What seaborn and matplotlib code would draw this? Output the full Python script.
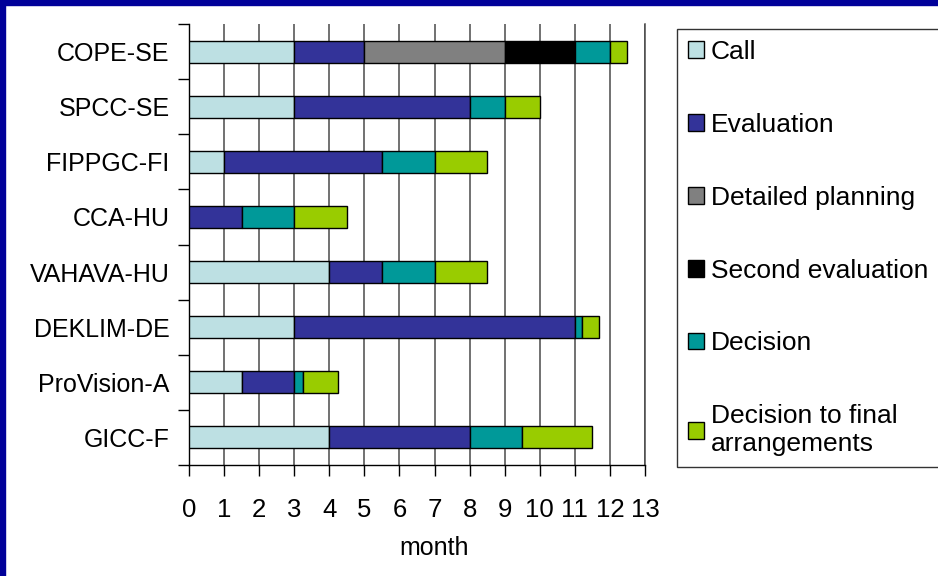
import pandas as pd
import matplotlib
matplotlib.use("Agg")
import matplotlib.pyplot as plt
from matplotlib.patches import Rectangle, Patch
import seaborn as sns

# Dados
projects = ["COPE-SE", "SPCC-SE", "FIPPGC-FI", "CCA-HU",
            "VAHAVA-HU", "DEKLIM-DE", "ProVision-A", "GICC-F"]
phases = ["Call", "Evaluation", "Detailed planning", "Second evaluation",
          "Decision", "Decision to final\narrangements"]

call = [3, 3, 1, 0, 4, 3, 1.5, 4]
evaluation = [2, 5, 4.5, 1.5, 1.5, 8, 1.5, 4]
detailed_planning = [4, 0, 0, 0, 0, 0, 0, 0]
second_evaluation = [2, 0, 0, 0, 0, 0, 0, 0]
decision = [1, 1, 1.5, 1.5, 1.5, 0.2, 0.25, 1.5]
final_arrangements = [0.5, 1, 1.5, 1.5, 1.5, 0.5, 1, 2]

colors = ["#bde0e3", "#333399", "#808080", "#000000", "#009999", "#99cc00"]

durations = [call, evaluation, detailed_planning, second_evaluation,
             decision, final_arrangements]

sns.set_style("white")
plt.rcParams["font.family"] = ["Liberation Sans", "DejaVu Sans"]
plt.rcParams["text.color"] = "black"
plt.rcParams["xtick.color"] = "black"
plt.rcParams["ytick.color"] = "black"
plt.rcParams["axes.labelcolor"] = "black"

fig = plt.figure(figsize=(9.38, 5.76), dpi=100)
ax = fig.add_axes([189 / 938, 111 / 576, 456 / 938, 441 / 576])

# Barras empilhadas
left = [0] * len(projects)
for phase, vals, col in zip(phases, durations, colors):
    df = pd.DataFrame({"project": projects, "months": vals})
    sns.barplot(data=df, x="months", y="project", order=projects,
                orient="y", color=col, width=0.4, left=left,
                edgecolor="black", linewidth=1, saturation=1, ax=ax,
                zorder=3)
    left = [l + v for l, v in zip(left, vals)]

# esconder barras de largura zero
for p in ax.patches:
    if p.get_width() == 0:
        p.set_visible(False)

ax.set_xlim(0, 13)
ax.set_ylim(7.5, -0.5)
ax.set_xticks(range(0, 14))
ax.set_yticks(range(len(projects)))
ax.set_yticklabels(projects)
ax.set_yticks([i - 0.5 for i in range(len(projects) + 1)], minor=True)

ax.grid(axis="x", color="#4a4a4a", linewidth=1.1, zorder=0)
ax.set_axisbelow(True)

ax.spines["top"].set_visible(False)
ax.spines["right"].set_color("#4a4a4a")
ax.spines["right"].set_linewidth(1.1)
for s in ["left", "bottom"]:
    ax.spines[s].set_color("black")
    ax.spines[s].set_linewidth(1)

ax.tick_params(axis="y", which="major", length=0, pad=14, labelsize=18)
ax.tick_params(axis="y", which="minor", length=8, width=1, color="black",
               direction="out", left=True)
ax.tick_params(axis="x", length=8, width=1, color="black", direction="out",
               bottom=True, pad=16, labelsize=18.5)

ax.set_xlabel("month", fontsize=18)
ax.xaxis.set_label_coords(0.537, -0.162)
ax.set_ylabel("")

# Legenda
handles = [Patch(facecolor=c, edgecolor="black", linewidth=1) for c in colors]
leg = fig.legend(handles, phases, loc="upper left",
                 bbox_to_anchor=(677 / 938, 1 - 29 / 576),
                 fontsize=19, frameon=True, fancybox=False,
                 edgecolor="black", handlelength=0.6, handleheight=0.6,
                 handletextpad=0.27, labelspacing=1.85, borderpad=0.42,
                 borderaxespad=0)
leg.get_frame().set_linewidth(1)

# Moldura azul (topo e esquerda)
fig.patches.append(Rectangle((0, 1 - 5 / 576), 1, 5 / 576,
                             transform=fig.transFigure, color="#000099"))
fig.patches.append(Rectangle((0, 0), 5 / 938, 1,
                             transform=fig.transFigure, color="#000099"))

fig.savefig("out.png", dpi=100)
